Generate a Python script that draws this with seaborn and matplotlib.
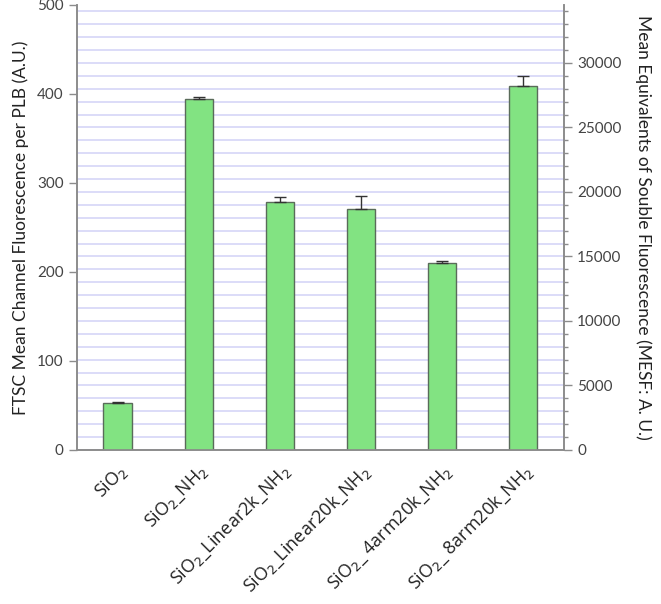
import matplotlib
matplotlib.use('Agg')
import matplotlib.pyplot as plt
import matplotlib.transforms as mtrans
import seaborn as sns
import numpy as np
import pandas as pd

# Datos
samples = ['SiO$_2$', 'SiO$_2$_NH$_2$', 'SiO$_2$_Linear2k_NH$_2$',
           'SiO$_2$_Linear20k_NH$_2$', 'SiO$_2$_ 4arm20k_NH$_2$', 'SiO$_2$_ 8arm20k_NH$_2$']
mean_fluor = [53, 394, 278, 271, 210, 409]
err_fluor = [1, 3, 6, 14, 2, 11]
mesf_max = 34500  # eje derecho equivalente a 500 en el izquierdo

df = pd.DataFrame({'sample': samples, 'fluor': mean_fluor})

sns.set_style('white')
plt.rcParams['font.family'] = ['Lato', 'DejaVu Sans']
grey = '#8c8c8c'
text_c = '#444444'

fig = plt.figure(figsize=(6.61, 6.04), dpi=100)
ax = fig.add_axes([0.1165, 0.255, 0.7365, 0.737])
ax2 = ax.twinx()

# rejilla horizontal del eje derecho (cada 1000)
ax2.set_ylim(0, mesf_max)
ax2.set_yticks(np.arange(0, 30001, 5000))
ax2.set_yticks(np.arange(0, mesf_max, 1000), minor=True)
ax2.grid(which='both', axis='y', color='#d2d2f6', lw=1.1)
ax2.set_axisbelow(True)
ax.set_zorder(ax2.get_zorder() + 1)
ax.patch.set_visible(False)

sns.barplot(data=df, x='sample', y='fluor', ax=ax, color='#82e382',
            edgecolor='#5a6b5a', linewidth=1.0, width=0.35, saturation=1)
pos = np.arange(len(samples))
ax.errorbar(pos, mean_fluor, yerr=[np.zeros(len(err_fluor)), err_fluor],
            fmt='none', ecolor='#333333', elinewidth=1, capsize=4, capthick=1)

ax.set_xlim(-0.5, len(samples) - 0.5)
ax.set_ylim(0, 500)
ax.set_yticks(np.arange(0, 501, 100))
ax.set_xticks(pos)
ax.set_xticklabels(samples, rotation=45, ha='right', rotation_mode='anchor',
                   fontsize=13, color='#222222', family=['Open Sans', 'DejaVu Sans'])
offset = mtrans.ScaledTranslation(12 / 100, 0, fig.dpi_scale_trans)
for lab in ax.get_xticklabels():
    lab.set_transform(lab.get_transform() + offset)
ax.set_xticks(np.arange(-0.5, len(samples) - 0.5, 1), minor=True)
ax.tick_params(axis='x', which='major', length=0, pad=8)
ax.tick_params(axis='x', which='minor', length=6, color=grey, direction='out', width=1)
ax.tick_params(axis='y', length=6, color=grey, labelcolor=text_c, labelsize=11, width=1,
               direction='out', left=True)
ax2.tick_params(axis='y', which='major', length=6, color=grey, labelcolor=text_c,
                labelsize=11, width=1, direction='out', right=True)
ax2.tick_params(axis='y', which='minor', length=3, color=grey, width=1, direction='out', right=True)

ax.set_xlabel('')
ax.set_ylabel('FTSC Mean Channel Fluorescence per PLB (A.U.)', fontsize=12.5, color='#222222', labelpad=6)
ax2.set_ylabel('Mean Equivalents of Souble Fluorescence (MESF: A. U.)', fontsize=12.5,
               color='#222222', rotation=270, labelpad=22)

for a in (ax, ax2):
    for s in a.spines.values():
        s.set_color(grey)
        s.set_linewidth(1.2)
    a.spines['top'].set_visible(False)

fig.savefig('out.png', dpi=100)
